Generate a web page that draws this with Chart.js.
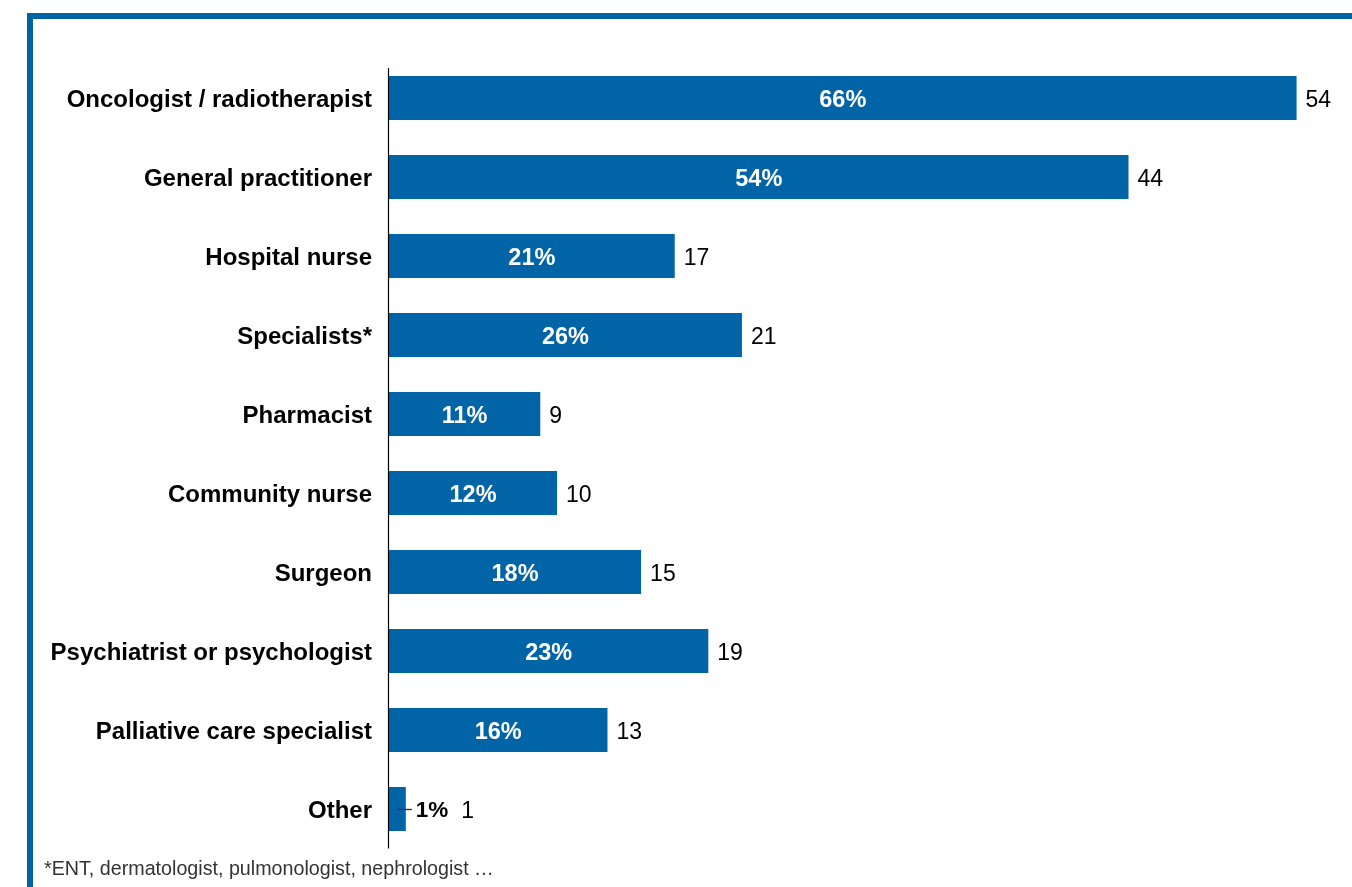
<!DOCTYPE html>
<html>
<head>
<meta charset="utf-8">
<script src="https://cdn.jsdelivr.net/npm/chart.js@4/dist/chart.umd.min.js"></script>
<style>
  html, body { margin: 0; padding: 0; background: #ffffff; }
  #wrap { position: relative; width: 1352px; height: 887px; overflow: hidden; }
  #frame { position: absolute; left: 27px; top: 13px; width: 1400px; height: 900px;
           border-top: 6px solid #0063A6; border-left: 6px solid #0063A6; box-sizing: border-box; }
  #c { position: absolute; left: 0; top: 0; }
</style>
</head>
<body>
<div id="wrap">
  <div id="frame"></div>
  <canvas id="c" width="1352" height="887"></canvas>
</div>
<script>
const categories = [
  'Oncologist / radiotherapist',
  'General practitioner',
  'Hospital nurse',
  'Specialists*',
  'Pharmacist',
  'Community nurse',
  'Surgeon',
  'Psychiatrist or psychologist',
  'Palliative care specialist',
  'Other'
];
const counts = [54, 44, 17, 21, 9, 10, 15, 19, 13, 1];
const percents = [66, 54, 21, 26, 11, 12, 18, 23, 16, 1];
const footnote = '*ENT, dermatologist, pulmonologist, nephrologist \u2026';

const FONT = '"Liberation Sans", Arial, Helvetica, sans-serif';
const BAR_COLOR = '#0064A7';

const labelPlugin = {
  id: 'barLabels',
  afterDatasetsDraw(chart) {
    const ctx = chart.ctx;
    const area = chart.chartArea;
    // y axis line
    ctx.save();
    ctx.strokeStyle = '#000000';
    ctx.lineWidth = 1.2;
    ctx.beginPath();
    ctx.moveTo(area.left - 0.5, area.top + 9.5);
    ctx.lineTo(area.left - 0.5, area.bottom);
    ctx.stroke();
    ctx.restore();

    const meta = chart.getDatasetMeta(0);
    meta.data.forEach((bar, i) => {
      const pct = percents[i] + '%';
      const val = String(counts[i]);
      const y = bar.y;
      const x = bar.x;
      const base = bar.base;
      ctx.save();
      ctx.textBaseline = 'middle';
      ctx.font = 'bold 23.5px ' + FONT;
      let pw = ctx.measureText(pct).width;
      let valueX;
      if (x - base > pw + 8) {
        ctx.fillStyle = '#ffffff';
        ctx.textAlign = 'center';
        ctx.fillText(pct, (base + x) / 2, y + 2.5);
        valueX = x + 9;
      } else {
        ctx.font = 'bold 22.5px ' + FONT;
        pw = ctx.measureText(pct).width;
        ctx.strokeStyle = '#26306A';
        ctx.lineWidth = 1.4;
        ctx.beginPath();
        ctx.moveTo((base + x) / 2, y + 0.5);
        ctx.lineTo(x + 6, y + 0.5);
        ctx.stroke();
        ctx.fillStyle = '#000000';
        ctx.textAlign = 'left';
        ctx.fillText(pct, x + 10, y + 2);
        valueX = x + 10 + pw + 13;
      }
      ctx.font = '23px ' + FONT;
      ctx.fillStyle = '#000000';
      ctx.textAlign = 'left';
      ctx.fillText(val, valueX, y + 2.5);
      ctx.restore();
    });

    ctx.save();
    ctx.font = '19.7px ' + FONT;
    ctx.fillStyle = '#333333';
    ctx.textAlign = 'left';
    ctx.textBaseline = 'alphabetic';
    ctx.fillText(footnote, 44, 875);
    ctx.restore();
  }
};

new Chart(document.getElementById('c'), {
  type: 'bar',
  data: {
    labels: categories,
    datasets: [{
      data: counts,
      backgroundColor: BAR_COLOR,
      borderWidth: 0,
      categoryPercentage: 1,
      barPercentage: 0.557
    }]
  },
  options: {
    indexAxis: 'y',
    responsive: false,
    animation: false,
    devicePixelRatio: 1,
    layout: { padding: { top: 58.5, bottom: 38.5, left: 0, right: 5 } },
    plugins: { legend: { display: false }, tooltip: { enabled: false } },
    scales: {
      x: { display: false, min: 0, max: 57 },
      y: {
        grid: { display: false, drawTicks: false },
        border: { display: false },
        ticks: {
          color: '#000000',
          padding: 17,
          labelOffset: 2,
          font: { family: FONT, size: 24, weight: 'bold' }
        },
        afterFit(scale) { scale.width = 389; }
      }
    }
  },
  plugins: [labelPlugin]
});
</script>
</body>
</html>
